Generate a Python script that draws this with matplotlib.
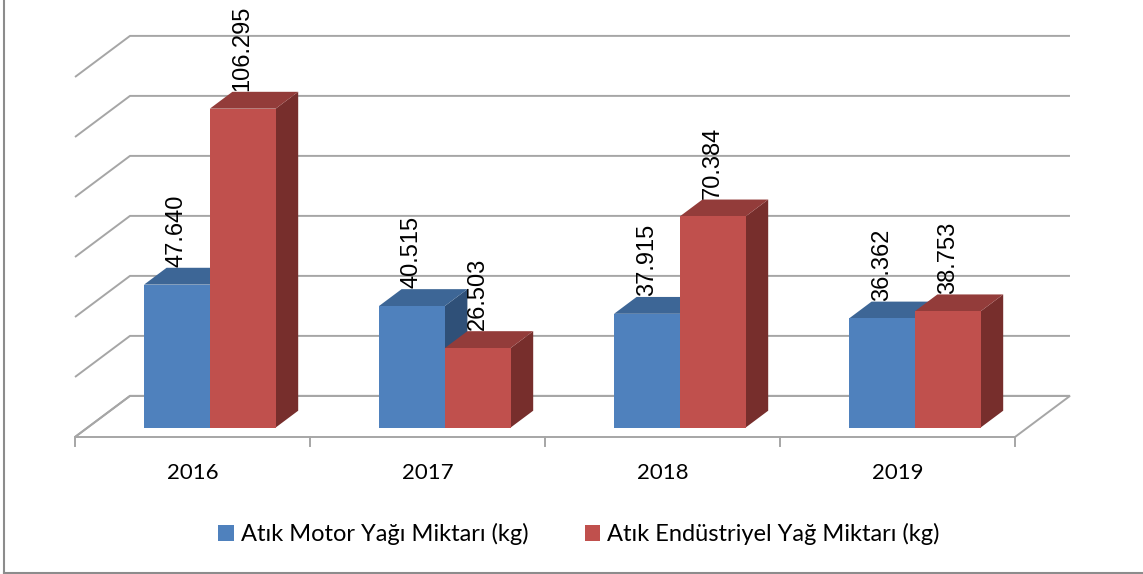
import matplotlib
matplotlib.use('Agg')
import matplotlib.pyplot as plt
from matplotlib.patches import Polygon, Patch
from matplotlib.lines import Line2D

# chart data
years = ['2016', '2017', '2018', '2019']
motor = [47.640, 40.515, 37.915, 36.362]
endustriyel = [106.295, 26.503, 70.384, 38.753]
series_names = ['Atık Motor Yağı Miktarı (kg)', 'Atık Endüstriyel Yağ Miktarı (kg)']
y_ticks = [0, 20, 40, 60, 80, 100, 120]

# colours (front, top, side)
blue = ('#4F81BD', '#3D6696', '#2F5078')
red = ('#C0504D', '#933C3A', '#772E2C')
grid_col = '#A6A6A6'

# 3d projection of the box: depth vector in data units
DX, DY = 0.234, 13.7
F0, FD = 0.23, 0.41      # bar front depth and bar thickness (fraction of depth)
GAP, W = 0.24, 0.28      # bar offset inside category and bar width

fig = plt.figure(figsize=(11.43, 5.74), dpi=100)
ax = fig.add_axes([0, 0, 1, 1])
ax.set_xlim(-75 / 235, (1143 - 75) / 235)
ax.set_ylim((437 - 574) / 3, 437 / 3)
ax.axis('off')

n = len(years)

# floor
ax.add_patch(Polygon([(0, 0), (n, 0), (n + DX, DY), (DX, DY)], closed=True,
                     facecolor='white', edgecolor=grid_col, lw=1.4, zorder=1))
# walls gridlines
for v in y_ticks:
    ax.plot([0, DX, n + DX], [v, v + DY, v + DY], color=grid_col, lw=1.4,
            zorder=1, solid_capstyle='butt')
# category ticks on front edge
for i in range(n + 1):
    ax.plot([i, i], [0, -3], color=grid_col, lw=1.4, zorder=1)


def bar3d(x0, h, cols, label):
    ox, oy = F0 * DX, F0 * DY
    bx, by = FD * DX, FD * DY
    xl, xr = x0 + ox, x0 + W + ox
    front = [(xl, oy), (xr, oy), (xr, h + oy), (xl, h + oy)]
    top = [(xl, h + oy), (xr, h + oy), (xr + bx, h + oy + by), (xl + bx, h + oy + by)]
    side = [(xr, oy), (xr + bx, oy + by), (xr + bx, h + oy + by), (xr, h + oy)]
    for pts, c in zip([side, top, front], [cols[2], cols[1], cols[0]]):
        ax.add_patch(Polygon(pts, closed=True, facecolor=c, edgecolor='none', zorder=3))
    ax.text((xl + xr) / 2, h + oy + by + 0.3, label, rotation=90, ha='center',
            va='bottom', fontsize=17, family='Liberation Sans', zorder=5)


for i in range(n):
    bar3d(i + GAP, motor[i], blue, f'{motor[i]:.3f}')
    bar3d(i + GAP + W, endustriyel[i], red, f'{endustriyel[i]:.3f}')
    ax.text(i + 0.5, -12, years[i], ha='center', va='center', fontsize=16,
            family='Lato')

handles = [Patch(facecolor=blue[0]), Patch(facecolor=red[0])]
fig.legend(handles, series_names, loc='center', bbox_to_anchor=(0.5066, 0.069),
           ncol=2, frameon=False, handlelength=0.64, handleheight=0.64,
           handletextpad=0.3, columnspacing=2.4,
           prop={'family': 'Lato', 'size': 17})

# outer frame (left and bottom only are visible)
fig.add_artist(Line2D([4 / 1143, 4 / 1143], [1, 1 / 574], color='#8C8C8C', lw=1.5))
fig.add_artist(Line2D([4 / 1143, 1], [1 / 574, 1 / 574], color='#8C8C8C', lw=1.5))

fig.savefig('out.png', dpi=100, facecolor='white')
